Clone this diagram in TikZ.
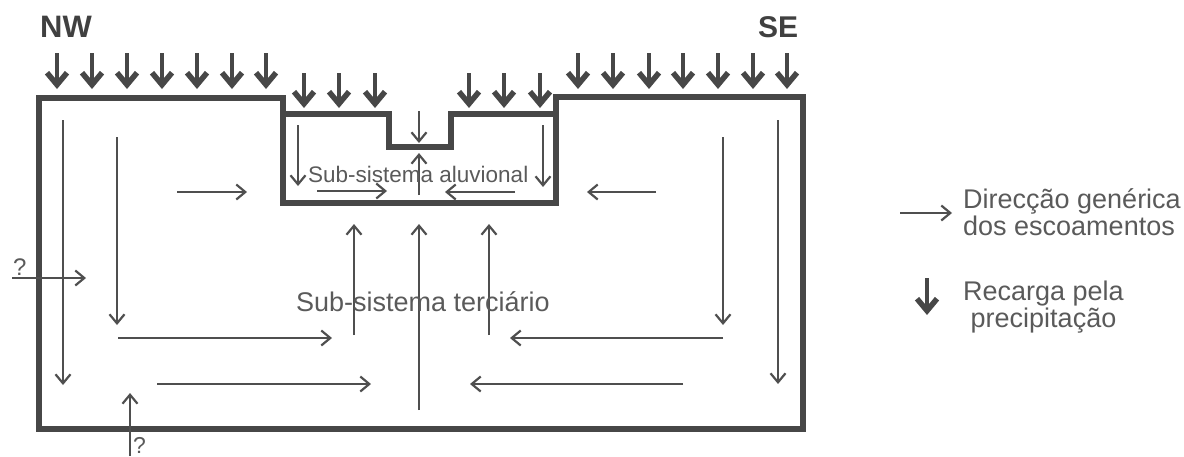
\documentclass[tikz,border=0pt]{standalone}
\usepackage{fontspec}
\setmainfont{Liberation Sans}
\usetikzlibrary{arrows.meta}
\definecolor{wall}{HTML}{474747}
\definecolor{flowc}{HTML}{4f4f4f}
\definecolor{textc}{HTML}{5a5a5a}
\definecolor{headc}{HTML}{404040}
\begin{document}
\begin{tikzpicture}[x=1pt,y=-1pt,
  wallline/.style={draw=wall,line width=6pt,line join=miter},
  flow/.style={draw=flowc,line width=2.2pt,-{Straight Barb[length=9pt,width=15pt]}},
  rain/.style={draw=wall,line width=4pt,-{Straight Barb[length=12pt,width=20pt,line width=5.5pt]}},
  lbl/.style={text=textc,inner sep=0pt,anchor=base west}]
\useasboundingbox (0,0) rectangle (1184,456);
% outline
\draw[wallline] (39,98) -- (283,98) -- (283,203) -- (556,203) -- (556,97) -- (803,97) -- (803,429) -- (39,429) -- cycle;
\draw[wallline] (283,114) -- (389,114) -- (389,147) -- (451,147) -- (451,114) -- (556,114);
% rain arrows
\foreach \x [count=\i] in {57,92,127,162,197,232,266} {
  \coordinate (ra\i) at (\x,53); \coordinate (rb\i) at (\x,89);
  \draw[rain] (ra\i) -- (rb\i);}
\foreach \x [count=\i] in {304,339,375,469,504,540} {
  \coordinate (ma\i) at (\x,73); \coordinate (mb\i) at (\x,108);
  \draw[rain] (ma\i) -- (mb\i);}
\foreach \x [count=\i] in {578,613,649,683,718,753,787} {
  \coordinate (sa\i) at (\x,53); \coordinate (sb\i) at (\x,89);
  \draw[rain] (sa\i) -- (sb\i);}
% flow arrows
\foreach \n/\xa/\ya/\xb/\yb in {
  1/63/120/63/385, 2/117/137/117/325, 3/177/192/247/192,
  4/298/125/298/186, 5/317/191/387/191, 6/419/111/419/143,
  7/419/195/419/153, 8/515/192/445/192, 9/543/125/543/187,
  10/656/192/587/192, 11/723/137/723/325, 12/778/120/778/384,
  13/354/335/354/224, 14/419/410/419/224, 15/489/335/489/224,
  16/118/338/332/338, 17/157/384/371/384, 18/723/338/510/338,
  19/683/384/470/384, 20/12/278/86/278, 21/130/456/130/393} {
  \coordinate (f\n s) at (\xa,\ya); \coordinate (f\n e) at (\xb,\yb);
  \draw[flow] (f\n s) -- (f\n e);}
% texts
\node[lbl,text=headc,font=\bfseries\fontsize{31}{31}\selectfont] (nw) at (40,37) {NW};
\node[lbl,text=headc,font=\bfseries\fontsize{30}{30}\selectfont] (se) at (758,37) {SE};
\node[lbl,font=\fontsize{22.5}{22.5}\selectfont] (aluv) at (308,182) {Sub-sistema aluvional};
\node[lbl,font=\fontsize{27}{27}\selectfont] (terc) at (296,311) {Sub-sistema terciário};
\node[lbl,font=\fontsize{24}{24}\selectfont] (q1) at (13,275) {?};
\node[lbl,font=\fontsize{23}{23}\selectfont] (q2) at (133,453) {?};
% legend
\coordinate (la) at (900,213); \coordinate (lb) at (952,213);
\draw[flow] (la) -- (lb);
\coordinate (lc) at (927,278); \coordinate (ld) at (927,315);
\draw[rain] (lc) -- (ld);
\node[lbl,anchor=base west,align=left,font=\fontsize{27}{25}\selectfont] (leg1) at (963,235) {Direcção genérica\\dos escoamentos};
\node[lbl,anchor=base west,align=center,font=\fontsize{27}{25}\selectfont] (leg2) at (963,327) {Recarga pela\\precipitação};
\end{tikzpicture}
\end{document}
